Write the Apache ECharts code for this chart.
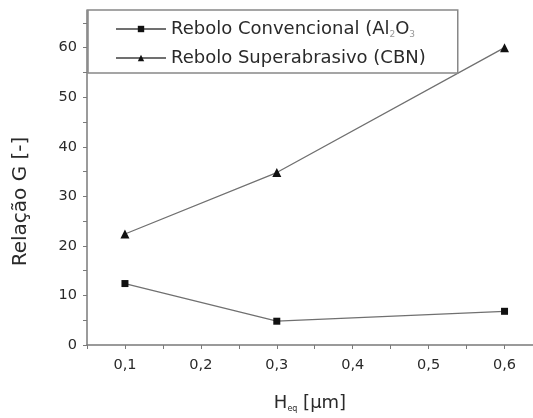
<!DOCTYPE html>
<html>
<head>
<meta charset="utf-8">
<script src="https://cdn.jsdelivr.net/npm/echarts@6/dist/echarts.min.js"></script>
<style>
  html, body { margin: 0; padding: 0; background: #fff; }
  #chart { width: 533px; height: 418px; }
</style>
</head>
<body>
<div id="chart"></div>
<script>
// dados
var hEq = [0.1, 0.3, 0.6];
var convencional = [12.4, 4.8, 6.8];
var superabrasivo = [22.4, 34.8, 60];
var yTicks = [0, 5, 10, 15, 20, 25, 30, 35, 40, 45, 50, 55, 60, 65];
var yLabels = [0, 10, 20, 30, 40, 50, 60];
var xTicks = [0.05, 0.1, 0.15, 0.2, 0.25, 0.3, 0.35, 0.4, 0.45, 0.5, 0.55, 0.6];
var xLabels = [0.1, 0.2, 0.3, 0.4, 0.5, 0.6];

var nomeConv = 'Rebolo Convencional (Al2O3';
var nomeSuper = 'Rebolo Superabrasivo (CBN)';

var myChart = echarts.init(document.getElementById('chart'));

var axisGray = '#7a7a7a';
var txt = '#2a2a2a';
var fonte = 'DejaVu Sans, Verdana, sans-serif';

var option = {
    backgroundColor: '#fff',
    animation: false,
    grid: {
        left: 87, right: 0, top: 10, bottom: 70,
        containLabel: false
    },
    legend: {
        orient: 'vertical',
        left: 88,
        top: 10,
        padding: [10, 32, 6, 27],
        itemGap: 10,
        itemWidth: 50,
        itemHeight: 8,
        backgroundColor: '#fff',
        borderColor: '#888',
        borderWidth: 1.5,
        data: [nomeConv, nomeSuper],
        formatter: function (name) {
            if (name === nomeConv) {
                return '{a|Rebolo Convencional (Al}{s|2}{a|O}{s|3}';
            }
            return '{a|' + name + '}';
        },
        textStyle: {
            color: txt,
            fontFamily: fonte,
            fontSize: 18,
            rich: {
                a: { fontSize: 18, lineHeight: 20, color: txt, fontFamily: fonte },
                s: { fontSize: 9, lineHeight: 20, color: '#999', fontFamily: fonte, verticalAlign: 'bottom', padding: [10, 0, 0, 0] }
            }
        }
    },
    xAxis: {
        type: 'value',
        min: 0.05,
        max: 0.6375,
        interval: 0.05,
        name: 'H{s|eq} [µm]',
        nameLocation: 'middle',
        nameGap: 48,
        nameTextStyle: {
            color: txt, fontFamily: fonte, fontSize: 18,
            rich: { s: { fontSize: 8, color: txt, fontFamily: fonte, verticalAlign: 'bottom', padding: [12, 0, 0, 0] } }
        },
        splitLine: { show: false },
        axisLine: { lineStyle: { color: axisGray, width: 1.5 } },
        axisTick: { customValues: xTicks, length: 4, lineStyle: { color: axisGray } },
        axisLabel: {
            customValues: xLabels,
            color: txt, fontFamily: fonte, fontSize: 14.5, margin: 13,
            formatter: function (v) { return v.toFixed(1).replace('.', ','); }
        }
    },
    yAxis: {
        type: 'value',
        min: 0,
        max: 67.6,
        interval: 5,
        name: 'Relação G [-]',
        nameLocation: 'middle',
        nameGap: 56,
        nameRotate: 90,
        nameTextStyle: { color: txt, fontFamily: fonte, fontSize: 20, padding: [0, 48, 0, 0] },
        splitLine: { show: false },
        axisLine: { lineStyle: { color: axisGray, width: 1.5 } },
        axisTick: { customValues: yTicks, length: 4, lineStyle: { color: axisGray } },
        axisLabel: {
            customValues: yLabels,
            color: txt, fontFamily: fonte, fontSize: 14.5, margin: 10
        }
    },
    series: [{
        name: nomeConv,
        type: 'line',
        data: hEq.map(function (x, i) { return [x, convencional[i]]; }),
        symbol: 'rect',
        symbolSize: 7,
        itemStyle: { color: '#111' },
        lineStyle: { color: '#707070', width: 1.3 }
    }, {
        name: nomeSuper,
        type: 'line',
        data: hEq.map(function (x, i) { return [x, superabrasivo[i]]; }),
        symbol: 'triangle',
        symbolSize: 9,
        itemStyle: { color: '#111' },
        lineStyle: { color: '#707070', width: 1.3 }
    }]
};

myChart.setOption(option);
</script>
</body>
</html>
